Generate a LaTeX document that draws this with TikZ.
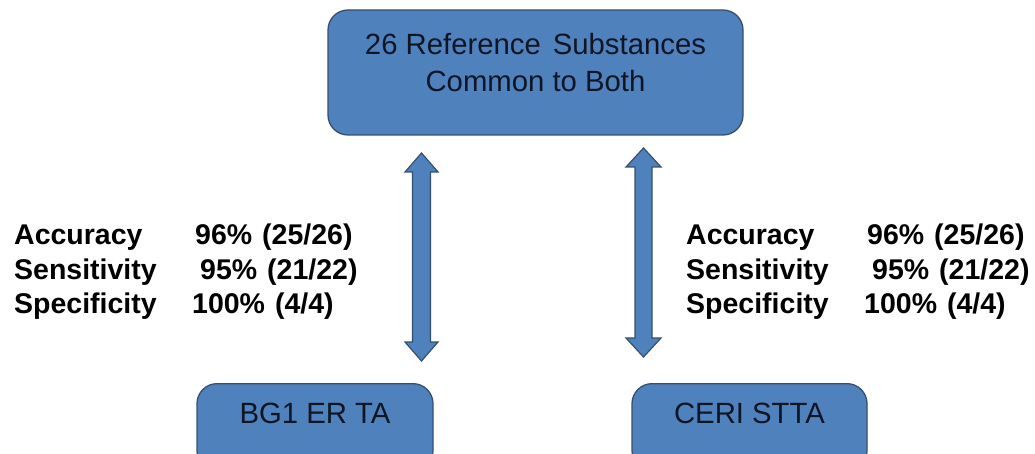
\documentclass[tikz,border=0pt]{standalone}
\usepackage{fontspec}
\setmainfont{Liberation Sans}
\usetikzlibrary{calc}
\definecolor{boxblue}{HTML}{4F81BD}
\definecolor{boxline}{HTML}{34506F}
\definecolor{boxtext}{HTML}{0E1626}
\tikzset{
  flowbox/.style={draw=boxline, line width=1.3pt, fill=boxblue, rounded corners=20pt,
    text=boxtext, font=\fontsize{29.3}{37.5}\selectfont, align=center, inner sep=0pt},
  stat/.style={anchor=base west, inner sep=0pt, font=\fontsize{28.5}{33}\selectfont\bfseries},
  fatarrow/.style={draw=boxline, line width=1.2pt, fill=boxblue, line join=miter}
}
\newcommand{\dblfat}[4]{% top, bottom, shaft half width, head half width
  \path[fatarrow] (#1) -- ($(#1)+(#4,19)$) -- ($(#1)+(#3,19)$) -- ($(#2)+(#3,-19)$)
    -- ($(#2)+(#4,-19)$) -- (#2) -- ($(#2)+(-#4,-19)$) -- ($(#2)+(-#3,-19)$)
    -- ($(#1)+(-#3,19)$) -- ($(#1)+(-#4,19)$) -- cycle;}
\begin{document}
\begin{tikzpicture}[x=1pt,y=-1pt]
\clip (0,0) rectangle (1035,454);
\fill[white] (0,0) rectangle (1035,454);

\node[flowbox, minimum width=415pt, minimum height=125pt] (top) at (535.5,72.5)
  {26 Reference\hspace{12pt}Substances\\Common to Both\rule[-20pt]{0pt}{20pt}};
\node[flowbox, minimum width=236pt, minimum height=87pt, anchor=north] (bg) at (315,383)
  {BG1 ER TA\rule[-28pt]{0pt}{28pt}};
\node[flowbox, minimum width=235pt, minimum height=87pt, anchor=north] (ceri) at (749.5,383)
  {CERI STTA\rule[-28pt]{0pt}{28pt}};

\coordinate (la) at (421.5,153);
\coordinate (lb) at (421.5,361);
\coordinate (ra) at (643.5,148);
\coordinate (rb) at (643.5,357);
\dblfat{la}{lb}{9}{16.5}
\dblfat{ra}{rb}{8.5}{17.5}

\node[stat] (accL) at (14,244) {Accuracy};
\node[stat] (senL) at (14,279) {Sensitivity};
\node[stat] (speL) at (14,313) {Specificity};
\node[stat] (accLv) at (195,244) {96\%\hspace{10pt}(25/26)};
\node[stat] (senLv) at (200,279) {95\%\hspace{10pt}(21/22)};
\node[stat] (speLv) at (192,313) {100\%\hspace{10pt}(4/4)};

\node[stat] (accR) at (686,244) {Accuracy};
\node[stat] (senR) at (686,279) {Sensitivity};
\node[stat] (speR) at (686,313) {Specificity};
\node[stat] (accRv) at (867,244) {96\%\hspace{10pt}(25/26)};
\node[stat] (senRv) at (872,279) {95\%\hspace{10pt}(21/22)};
\node[stat] (speRv) at (864,313) {100\%\hspace{10pt}(4/4)};
\end{tikzpicture}
\end{document}
